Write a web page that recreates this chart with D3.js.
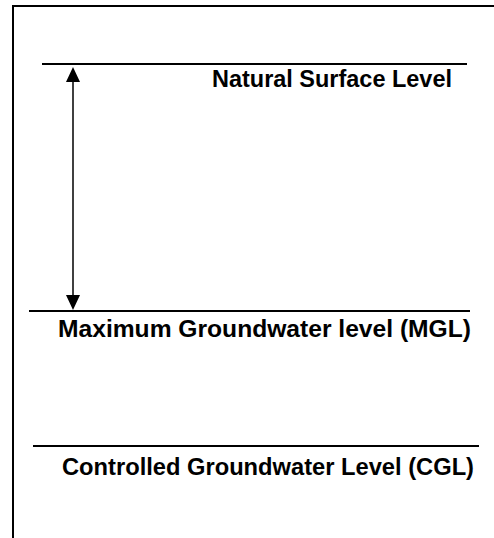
<!DOCTYPE html>
<html>
<head>
<meta charset="utf-8">
<script src="https://cdn.jsdelivr.net/npm/d3@7"></script>
<style>
  body { margin: 0; background: #fff; }
</style>
</head>
<body>
<script>
// levels, top to bottom (depth in arbitrary units below the natural surface)
var levelNames = ["Natural Surface Level", "Maximum Groundwater level (MGL)", "Controlled Groundwater Level (CGL)"];
var levelDepths = [0, 2.47, 3.82];

// which depths the arrow spans
var arrowSpan = [0, 2.47];

var width = 494, height = 538;

var svg = d3.select("body").append("svg")
    .attr("width", width)
    .attr("height", height);

var y = d3.scaleLinear().domain([0, 1]).range([64, 164]);

// line extents and label placement for each level
var lineX = [[42, 467], [29, 470], [33, 479]];
var labelX = [212, 58, 62];
var labelLen = [240, 413, 412];
var labelDy = [23, 26, 29];

// frame (top and left edges only)
svg.append("path")
    .attr("d", "M13,538 L13,6 L494,6")
    .attr("fill", "none")
    .attr("stroke", "#000")
    .attr("stroke-width", 2);

svg.selectAll(".level")
    .data(levelDepths)
    .enter().append("line")
    .attr("class", "level")
    .attr("x1", function(d, i) { return lineX[i][0]; })
    .attr("x2", function(d, i) { return lineX[i][1]; })
    .attr("y1", function(d) { return y(d); })
    .attr("y2", function(d) { return y(d); })
    .attr("stroke", "#000")
    .attr("stroke-width", 2);

svg.selectAll(".label")
    .data(levelDepths)
    .enter().append("text")
    .attr("class", "label")
    .attr("x", function(d, i) { return labelX[i]; })
    .attr("y", function(d, i) { return y(d) + labelDy[i]; })
    .attr("font-family", "'Liberation Sans', Arial, sans-serif")
    .attr("font-weight", "bold")
    .attr("font-size", "23px")
    .attr("textLength", function(d, i) { return labelLen[i]; })
    .attr("lengthAdjust", "spacingAndGlyphs")
    .attr("fill", "#000")
    .text(function(d, i) { return levelNames[i]; });

// double-headed arrow
var ax = 73;
var arrowTop = y(arrowSpan[0]) + 3, arrowBot = y(arrowSpan[1]) - 1;
svg.append("line")
    .attr("x1", ax).attr("x2", ax)
    .attr("y1", arrowTop + 10).attr("y2", arrowBot - 10)
    .attr("stroke", "#000")
    .attr("stroke-width", 1.5);
svg.append("path")
    .attr("d", "M" + ax + "," + arrowTop + " L" + (ax - 7) + "," + (arrowTop + 15) + " L" + (ax + 7) + "," + (arrowTop + 15) + " Z")
    .attr("fill", "#000");
svg.append("path")
    .attr("d", "M" + ax + "," + arrowBot + " L" + (ax - 7) + "," + (arrowBot - 15) + " L" + (ax + 7) + "," + (arrowBot - 15) + " Z")
    .attr("fill", "#000");
</script>
</body>
</html>
